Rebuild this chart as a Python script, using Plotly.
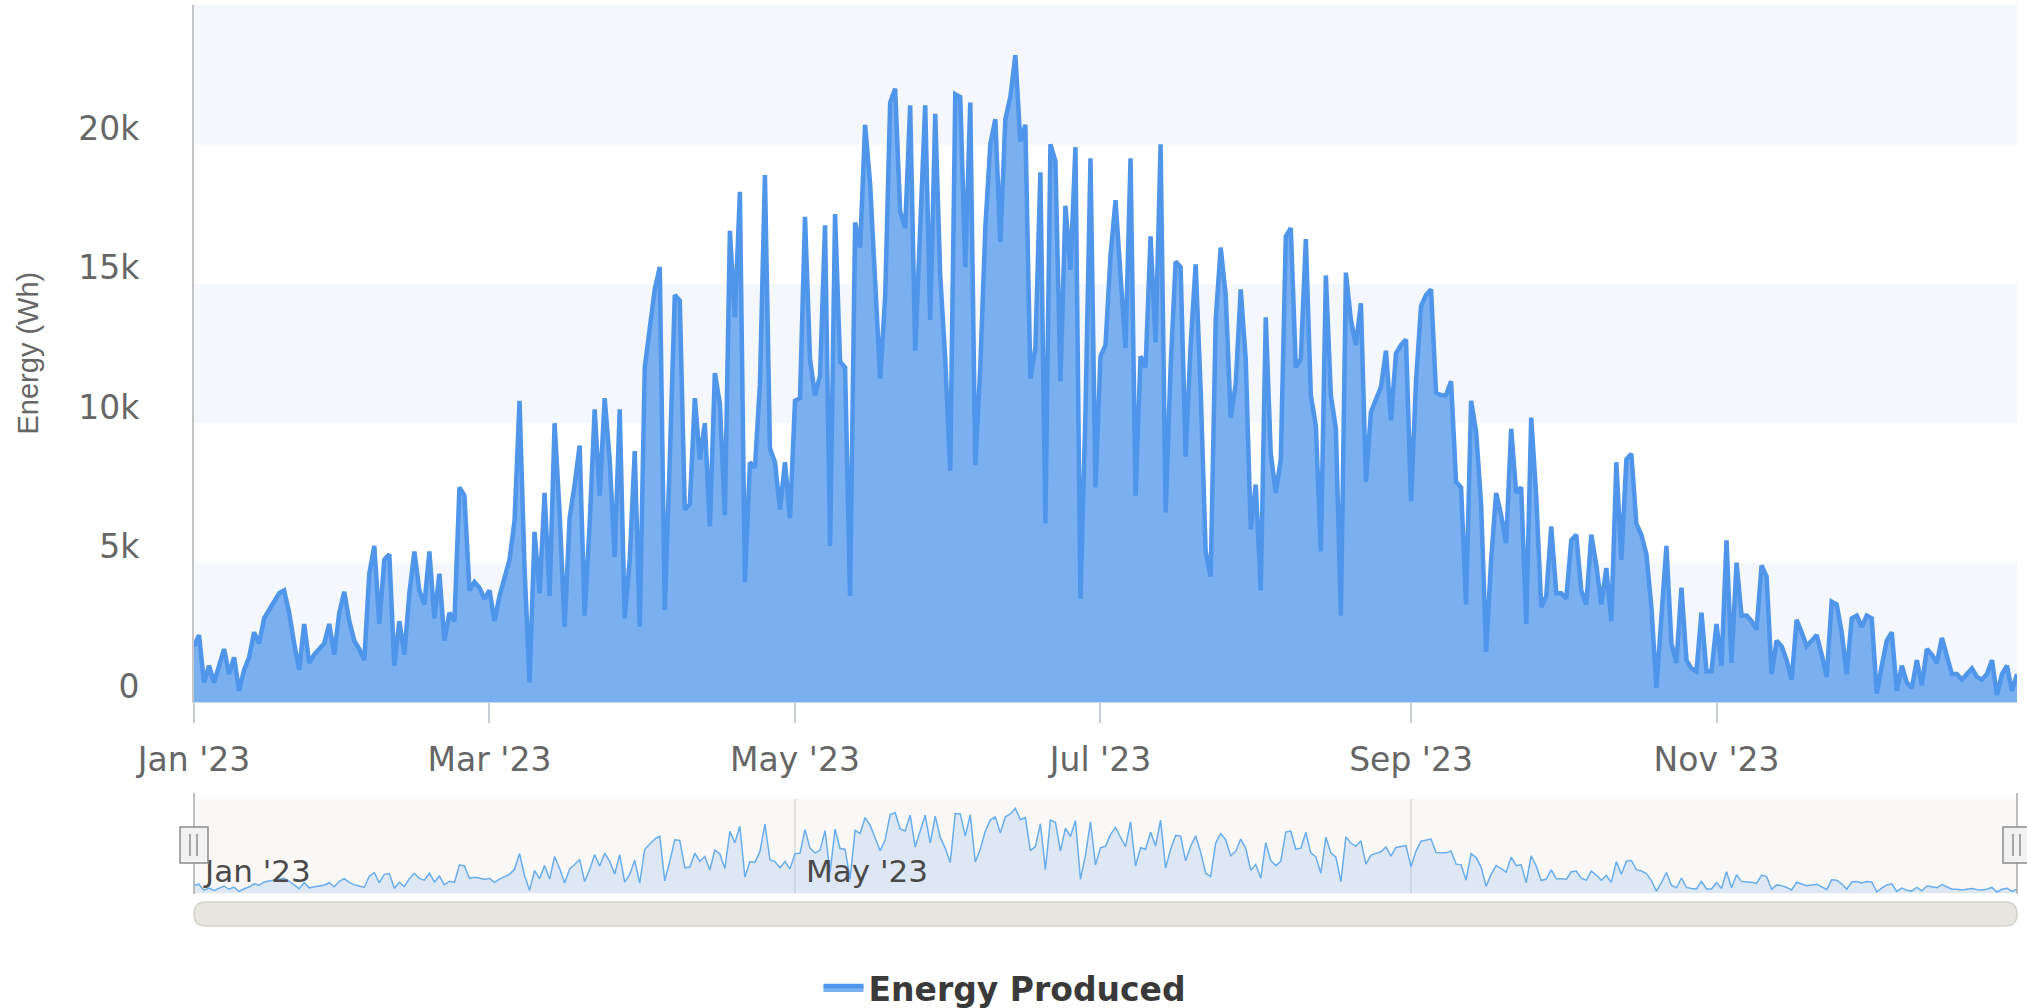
import plotly.graph_objects as go
import pandas as pd

# Daily energy produced (Wh), one list per month of 2023
jan = [2000, 2400, 700, 1300, 700, 1300, 1900, 1000, 1600, 400, 1150, 1600, 2500, 2100, 3000, 3300,
       3600, 3900, 4000, 3200, 2100, 1150, 2800, 1400, 1700, 1900, 2100, 2800, 1700, 3200, 3950]
feb = [2900, 2200, 1900, 1500, 4600, 5600, 2800, 5100, 5300, 1300, 2900, 1700, 3900, 5400, 4000,
       3500, 5400, 3000, 4600, 2200, 3200, 2900, 7700, 7400, 4000, 4300, 4100, 3700]
mar = [4000, 2900, 3800, 4400, 5100, 6500, 10800, 4800, 700, 6100, 3900, 7500, 3800, 10000, 6800,
       2700, 6600, 7800, 9200, 3100, 6400, 10500, 7400, 10900, 8700, 5200, 10500, 3000, 5100, 9000, 2700]
apr = [12000, 13300, 14800, 15600, 3300, 8700, 14600, 14400, 6900, 7100, 10900, 8700, 10000, 6300,
       11800, 10700, 6700, 16900, 13800, 18300, 4300, 8600, 8400, 11400, 18900, 9100, 8600, 6900, 8600, 6600]
may = [10800, 10900, 17400, 12300, 11000, 11700, 17100, 5600, 17500, 12200, 12000, 3800, 17200, 16300,
       20700, 18600, 15300, 11600, 14500, 21500, 22000, 17600, 17000, 21400, 12600, 17000, 21400, 13700,
       21100, 15300, 12300]
jun = [8300, 21800, 21700, 15600, 21500, 8500, 12000, 17000, 20000, 20900, 16500, 20900, 21700, 23200,
       20100, 20700, 11600, 12700, 19000, 6400, 20000, 19400, 11500, 17800, 15500, 19900, 3700, 10400,
       19500, 7700]
jul = [12400, 12800, 16000, 18000, 15300, 12700, 19500, 7400, 12400, 12000, 16700, 12900, 20000, 6800,
       12000, 15800, 15600, 8800, 12800, 15700, 11200, 5400, 4500, 13700, 16300, 14600, 10200, 11400,
       14800, 12300, 6200]
aug = [7800, 4000, 13800, 8900, 7500, 8700, 16700, 17000, 12000, 12300, 16600, 11000, 9900, 5400, 15300,
       11000, 9800, 3100, 15400, 13700, 12800, 14300, 7900, 10400, 10900, 11300, 12600, 10100, 12500,
       12800, 13000]
sep = [7200, 11500, 14200, 14600, 14800, 11100, 11000, 11000, 11500, 7900, 7700, 3500, 10800, 9700, 7100,
       1800, 5100, 7500, 6700, 5700, 9800, 7500, 7700, 2800, 10200, 7400, 3400, 3800, 6300, 3900]
oct_ = [3900, 3700, 5800, 6000, 4000, 3500, 6000, 4900, 3500, 4800, 2900, 8600, 5100, 8700, 8900, 6400,
        6000, 5300, 3400, 500, 2800, 5600, 2100, 1400, 4100, 1500, 1200, 1100, 3200, 1100, 1100]
nov = [2800, 1300, 5800, 1400, 5000, 3100, 3100, 2900, 2600, 4900, 4500, 1000, 2200, 2000, 1500, 800,
       2950, 2500, 2000, 2200, 2400, 1700, 900, 3600, 3500, 2500, 1000, 3000, 3100, 2700]
dec = [3100, 3000, 300, 1300, 2200, 2500, 400, 1300, 700, 500, 1500, 600, 1900, 1700, 1400, 2300, 1600,
       1000, 1000, 800, 1000, 1200, 900, 800, 1000, 1500, 250, 1000, 1300, 400, 1000]

energy = jan + feb + mar + apr + may + jun + jul + aug + sep + oct_ + nov + dec
dates = pd.date_range("2023-01-01", periods=len(energy), freq="D")

x_ticks = ["2023-01-01", "2023-03-01", "2023-05-01", "2023-07-01", "2023-09-01", "2023-11-01"]
y_ticks = [0, 5000, 10000, 15000, 20000]
y_ticktext = ["0", "5k", "10k", "15k", "20k"]
nav_ticks = ["2023-01-01", "2023-05-01", "2023-09-01"]
nav_ticktext = ["Jan '23", "May '23", ""]
series_name = "Energy Produced"
y_title = "Energy (Wh)"

W, H = 2027, 1008
L, R = 194, 10
PW = W - L - R


def px_x(px):
    return (px - L) / PW


def px_y(py):
    return 1 - py / H


fig = go.Figure()
fig.add_trace(go.Scatter(
    x=dates, y=energy, mode="lines", name=series_name,
    line=dict(color="#4f95ea", width=4.5),
    fill="tozeroy", fillcolor="#7aaff0",
    xaxis="x", yaxis="y",
))
fig.add_trace(go.Scatter(
    x=dates, y=energy, mode="lines", showlegend=False, hoverinfo="skip",
    line=dict(color="#68adec", width=1.5),
    fill="tozeroy", fillcolor="rgba(124,181,236,0.22)",
    xaxis="x2", yaxis="y2",
))

shapes = []
# alternate grid bands
for lo, hi in [(0, 5000), (10000, 15000), (20000, 25000)]:
    shapes.append(dict(type="rect", xref="x domain", yref="y", x0=0, x1=1, y0=lo, y1=hi,
                       fillcolor="#f4f8fd", line=dict(width=0), layer="below"))
# navigator background
shapes.append(dict(type="rect", xref="x2 domain", yref="y2 domain", x0=0, x1=1, y0=0, y1=1,
                   fillcolor="#faf7f7", line=dict(width=0), layer="below"))
# navigator outline edges
for xp in (0, 1):
    shapes.append(dict(type="line", xref="paper", yref="paper", x0=xp, x1=xp,
                       y0=px_y(894), y1=px_y(793), line=dict(color="#a9a9a9", width=1.5)))
# navigator handles
for cx in (194, 2017):
    shapes.append(dict(type="rect", xref="paper", yref="paper",
                       x0=px_x(cx - 14), x1=px_x(cx + 14), y0=px_y(863), y1=px_y(827),
                       fillcolor="#f2f2f2", line=dict(color="#8c8c8c", width=1.5)))
    for dx in (-4, 3):
        shapes.append(dict(type="line", xref="paper", yref="paper",
                           x0=px_x(cx + dx), x1=px_x(cx + dx), y0=px_y(856), y1=px_y(834),
                           line=dict(color="#8c8c8c", width=1.5)))
# scrollbar (rounded)
x0, x1 = 0.0, 1.0
yt, yb = px_y(902), px_y(926)
rx, ry = 12 / PW, 12 / H
path = (f"M {x0+rx},{yt} L {x1-rx},{yt} Q {x1},{yt} {x1},{yt-ry} L {x1},{yb+ry} "
        f"Q {x1},{yb} {x1-rx},{yb} L {x0+rx},{yb} Q {x0},{yb} {x0},{yb+ry} "
        f"L {x0},{yt-ry} Q {x0},{yt} {x0+rx},{yt} Z")
shapes.append(dict(type="path", xref="paper", yref="paper", path=path,
                   fillcolor="#e6e5df", line=dict(color="#d2d2ca", width=1.5)))

tick_font = dict(family="DejaVu Sans", size=33, color="#666666")

fig.update_layout(
    width=W, height=H,
    margin=dict(l=L, r=R, t=0, b=0, autoexpand=False),
    paper_bgcolor="white", plot_bgcolor="white",
    shapes=shapes,
    showlegend=True,
    legend=dict(orientation="h", x=px_x(1005), xanchor="center", y=px_y(988), yanchor="middle",
                font=dict(family="DejaVu Sans", size=33, color="#3a3a3a", weight="bold"),
                itemwidth=40, bgcolor="rgba(0,0,0,0)"),
    xaxis=dict(domain=[0, 1], anchor="y", type="date",
               range=["2023-01-01", "2023-12-31"],
               tickvals=x_ticks, tickformat="%b '%y",
               ticks="outside", ticklen=20, tickwidth=2, tickcolor="#c8ccd4",
               showline=True, linecolor="#ccd6eb", linewidth=1,
               showgrid=False, zeroline=False, tickfont=tick_font,
               ticklabelstandoff=8, automargin=False),
    yaxis=dict(domain=[px_y(702), px_y(5)], anchor="x", range=[0, 25000],
               tickvals=y_ticks, ticktext=y_ticktext,
               showgrid=False, zeroline=False, showline=True, linecolor="#c4c4c4", linewidth=2,
               ticks="", ticklabelshift=-16, ticklabelstandoff=46,
               tickfont=tick_font, automargin=False),
    xaxis2=dict(domain=[0, 1], anchor="y2", type="date",
                range=["2023-01-01", "2023-12-31"],
                tickvals=nav_ticks, ticktext=nav_ticktext,
                ticklabelposition="inside right", ticklabeloverflow="allow", ticks="",
                ticklabelstandoff=0, ticklabelshift=11,
                showgrid=True, gridcolor="#e3e3e3", gridwidth=1.5,
                showline=False, zeroline=False,
                tickfont=dict(family="DejaVu Sans", size=31, color="#4a4a4a"),
                automargin=False),
    yaxis2=dict(domain=[px_y(894), px_y(799)], anchor="x2", range=[-300, 25800],
                showticklabels=False, showgrid=False, zeroline=False, showline=False,
                automargin=False),
    annotations=[dict(text=y_title, xref="paper", yref="paper",
                      x=px_x(27), y=px_y(353.5), xanchor="center", yanchor="middle",
                      textangle=-90, showarrow=False,
                      font=dict(family="Liberation Sans", size=29, color="#666666"))],
)

fig.write_html("out.html", config={"displayModeBar": False},
               post_script="document.body.style.margin='0';document.body.style.overflow='hidden';")
